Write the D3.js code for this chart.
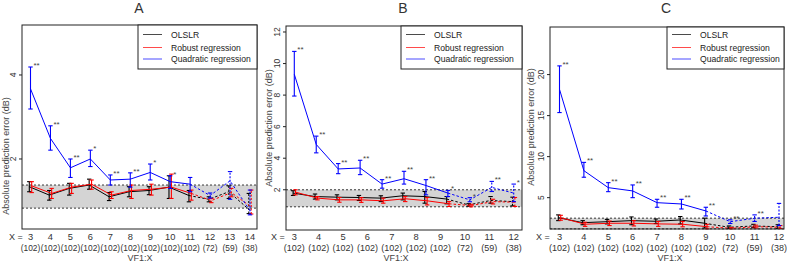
<!DOCTYPE html>
<html><head><meta charset="utf-8">
<script src="https://cdn.jsdelivr.net/npm/d3@7"></script>
<style>body{margin:0;background:#fff}svg{display:block;font-family:"Liberation Sans",Arial,sans-serif}</style>
</head><body>
<script>
// ---------- Panel A ----------
const xLabelsA = [3,4,5,6,7,8,9,10,11,12,13,14];
const nLabelsA = ["(102)","(102)","(102)","(102)","(102)","(102)","(102)","(102)","(102)","(72)","(59)","(38)"];
const quadA   = [3.67,2.49,1.79,2.00,1.50,1.52,1.68,1.46,1.40,1.13,1.48,0.77];
const quadLoA = [3.19,2.21,1.56,1.82,1.38,1.33,1.50,1.30,1.22,1.07,1.04,0.67];
const quadHiA = [4.19,2.79,2.00,2.21,1.62,1.67,1.88,1.60,1.56,1.19,1.70,1.26];
const olsA    = [1.34,1.14,1.30,1.38,1.10,1.22,1.25,1.33,1.13,1.04,1.22,0.80];
const olsLoA  = [1.22,1.02,1.14,1.28,1.01,1.10,1.15,1.06,0.98,0.98,1.06,0.70];
const olsHiA  = [1.46,1.25,1.42,1.52,1.20,1.34,1.34,1.60,1.25,1.10,1.36,1.18];
const robA    = [1.36,1.18,1.33,1.40,1.14,1.25,1.28,1.33,1.18,1.01,1.20,0.86];
const robLoA  = [1.20,1.06,1.18,1.28,1.06,1.06,1.14,1.06,1.02,0.96,1.10,0.69];
const robHiA  = [1.46,1.30,1.42,1.50,1.22,1.38,1.40,1.64,1.26,1.06,1.30,1.26];
const starsA  = ["**","**","**","*","**","**","*","*","","","",""];
const ticksA  = [2,4];
const bandA   = [0.83,1.38];

// ---------- Panel B ----------
const xLabelsB = [3,4,5,6,7,8,9,10,11,12];
const nLabelsB = ["(102)","(102)","(102)","(102)","(102)","(102)","(102)","(72)","(59)","(38)"];
const quadB   = [9.32,4.87,3.32,3.38,2.36,2.70,2.27,1.79,1.36,2.15,1.79];
const quadLoB = [7.94,4.34,3.02,2.96,2.10,2.36,1.68,1.57,1.24,1.89,1.25];
const quadHiB = [10.77,5.40,3.66,3.87,2.64,3.17,2.64,1.96,1.50,2.53,2.36];
const olsB    = [1.79,1.57,1.53,1.51,1.47,1.62,1.57,1.41,1.04,1.32,1.25];
const olsLoB  = [1.64,1.41,1.36,1.32,1.25,1.36,1.15,1.11,0.96,1.15,0.98];
const olsHiB  = [1.94,1.73,1.68,1.64,1.62,1.79,1.89,1.57,1.12,1.57,1.53];
const robB    = [1.85,1.47,1.36,1.36,1.30,1.43,1.30,1.11,1.00,1.25,1.21];
const robLoB  = [1.68,1.36,1.21,1.20,1.15,1.25,1.04,0.94,0.92,1.10,0.94];
const robHiB  = [2.00,1.57,1.51,1.50,1.47,1.57,1.51,1.25,1.08,1.40,1.51];
const starsB  = ["**","**","**","**","**","**","**","*","*","**","*"];
const ticksB  = [2,4,6,8,10,12];
const bandB   = [0.92,2.0];

// ---------- Panel C ----------
const xLabelsC = [3,4,5,6,7,8,9,10,11,12];
const nLabelsC = ["(102)","(102)","(102)","(102)","(102)","(102)","(102)","(72)","(59)","(38)"];
const quadC   = [18.2,8.29,6.22,5.82,4.39,4.23,3.38,2.07,2.49,2.61];
const quadLoC = [15.37,7.49,5.73,5.00,3.83,3.62,2.77,1.85,2.10,1.60];
const quadHiC = [21.06,9.30,6.83,6.55,4.80,4.80,3.83,2.30,2.90,4.30];
const olsC    = [2.56,1.95,2.07,2.20,2.12,2.28,1.88,1.39,1.55,1.46];
const olsLoC  = [2.20,1.70,1.80,1.70,1.85,1.80,1.30,1.25,1.35,1.25];
const olsHiC  = [2.90,2.20,2.35,2.65,2.40,2.70,2.50,1.55,1.75,1.70];
const robC    = [2.56,1.76,1.88,1.88,1.80,1.76,1.46,1.26,1.46,1.39];
const robLoC  = [2.25,1.50,1.60,1.55,1.50,1.45,1.20,1.20,1.30,1.25];
const robHiC  = [2.85,2.00,2.15,2.20,2.10,2.10,1.75,1.35,1.65,1.60];
const starsC  = ["**","**","**","**","**","**","**","**","**",""];
const ticksC  = [5,10,15,20];
const bandC   = [1.2,2.5];

const legendNames = ["OLSLR","Robust regression","Quadratic regression"];
const colors = {ols:"#000000", rob:"#ff0000", quad:"#0000ff"};

const panels = [
  {title:"A", left:22, right:257, top:25, bottom:229, ydom:[0.333,5.19], xr:[30.5,250],
   labels:xLabelsA, n:nLabelsA, quad:quadA, quadLo:quadLoA, quadHi:quadHiA, ols:olsA, olsLo:olsLoA, olsHi:olsHiA,
   rob:robA, robLo:robLoA, robHi:robHiA, stars:starsA, ticks:ticksA, band:bandA, dash:8,
   ylabY:156, ylabX:6, titleX:139, vfX:140, xeqX:16, legX:138, nfs:8.4},
  {title:"B", left:286, right:522, top:26, bottom:230, ydom:[-0.55,12.38], xr:[294.3,513.7],
   labels:xLabelsB, n:nLabelsB, quad:quadB, quadLo:quadLoB, quadHi:quadHiB, ols:olsB, olsLo:olsLoB, olsHi:olsHiB,
   rob:robB, robLo:robLoB, robHi:robHiB, stars:starsB, ticks:ticksB, band:bandB, dash:7,
   ylabY:128, ylabX:269, titleX:403, vfX:396, xeqX:278, legX:401, nfs:9},
  {title:"C", left:550, right:784, top:27, bottom:229, ydom:[1.18,25.8], xr:[559.5,779],
   labels:xLabelsC, n:nLabelsC, quad:quadC, quadLo:quadLoC, quadHi:quadHiC, ols:olsC, olsLo:olsLoC, olsHi:olsHiC,
   rob:robC, robLo:robLoC, robHi:robHiC, stars:starsC, ticks:ticksC, band:bandC, dash:6,
   ylabY:127, ylabX:531, titleX:666, vfX:670, xeqX:543, legX:667, nfs:9}
];

const svg = d3.select("body").append("svg").attr("width",787).attr("height",261);

panels.forEach(p => {
  const g = svg.append("g");
  const npts = p.quad.length;
  const x = d3.scaleLinear().domain([0, npts-1]).range(p.xr);
  const xl = d3.scaleLinear().domain([p.labels[0], p.labels[p.labels.length-1]]).range(p.xr);
  const y = d3.scaleLinear().domain(p.ydom).range([p.bottom, p.top]);

  // band
  g.append("rect").attr("x",p.left).attr("width",p.right-p.left)
    .attr("y",y(p.band[1])).attr("height",y(p.band[0])-y(p.band[1])).attr("fill","#d4d4d4");
  p.band.forEach(b => g.append("line").attr("x1",p.left).attr("x2",p.right).attr("y1",y(b)).attr("y2",y(b))
    .attr("stroke","#222").attr("stroke-width",0.9).attr("stroke-dasharray","2,2"));

  // series
  const series = [
    {k:"ols", v:p.ols, lo:p.olsLo, hi:p.olsHi, off:-1.2},
    {k:"rob", v:p.rob, lo:p.robLo, hi:p.robHi, off:1.2},
    {k:"quad", v:p.quad, lo:p.quadLo, hi:p.quadHi, off:0}
  ];
  series.forEach(s => {
    const pts = s.v.map((v,i)=>({i, v, lo:s.lo[i], hi:s.hi[i]}));
    const line = d3.line().x(d=>x(d.i)+s.off).y(d=>y(d.v));
    g.append("path").attr("d", line(pts.slice(0,p.dash+1))).attr("fill","none")
      .attr("stroke",colors[s.k]).attr("stroke-width",1);
    g.append("path").attr("d", line(pts.slice(p.dash))).attr("fill","none")
      .attr("stroke",colors[s.k]).attr("stroke-width",1).attr("stroke-dasharray","2.5,2");
    pts.forEach(d => {
      const cx = x(d.i)+s.off;
      const dash = d.i > p.dash ? "2,1.5" : null;
      const eb = g.append("g").attr("stroke",colors[s.k]).attr("stroke-width",1.1);
      eb.append("line").attr("x1",cx).attr("x2",cx).attr("y1",y(d.lo)).attr("y2",y(d.hi)).attr("stroke-dasharray",dash);
      eb.append("line").attr("x1",cx-2.2).attr("x2",cx+2.2).attr("y1",y(d.lo)).attr("y2",y(d.lo));
      eb.append("line").attr("x1",cx-2.2).attr("x2",cx+2.2).attr("y1",y(d.hi)).attr("y2",y(d.hi));
    });
  });

  // stars
  p.stars.forEach((st,i) => {
    if (!st) return;
    g.append("text").attr("x", x(i)+3).attr("y", y(p.quadHi[i])+1)
      .attr("font-size",8).attr("fill","#444").text(st);
  });

  // box
  g.append("rect").attr("x",p.left).attr("y",p.top).attr("width",p.right-p.left).attr("height",p.bottom-p.top)
    .attr("fill","none").attr("stroke","#222").attr("stroke-width",1);

  // y ticks
  p.ticks.forEach(t => {
    g.append("line").attr("x1",p.left-3).attr("x2",p.left).attr("y1",y(t)).attr("y2",y(t)).attr("stroke","#222");
    g.append("text").attr("transform",`translate(${p.left-6},${y(t)}) rotate(-90)`)
      .attr("text-anchor","middle").attr("font-size",8.5).attr("fill","#333").text(t);
  });
  g.append("text").attr("transform",`translate(${p.ylabX+3},${p.ylabY}) rotate(-90)`)
    .attr("text-anchor","middle").attr("font-size",9).attr("fill","#444").text("Absolute prediction error (dB)");

  // x labels
  g.append("text").attr("x",p.xeqX).attr("y",240).attr("text-anchor","middle").attr("font-size",9).attr("fill","#333").text("X =");
  p.labels.forEach((l,i) => {
    g.append("text").attr("x",xl(l)).attr("y",240).attr("text-anchor","middle").attr("font-size",9.3).attr("fill","#333").text(l);
    g.append("text").attr("x",xl(l)).attr("y",250.5).attr("text-anchor","middle").attr("font-size",p.nfs).attr("fill","#333").text(p.n[i]);
  });
  g.append("text").attr("x",p.vfX).attr("y",260.5).attr("text-anchor","middle").attr("font-size",9).attr("fill","#444").text("VF1:X");

  // title
  g.append("text").attr("x",p.titleX).attr("y",13).attr("text-anchor","middle").attr("font-size",14).attr("fill","#333").text(p.title);

  // legend
  const lg = g.append("g");
  lg.append("rect").attr("x",p.legX).attr("y",p.top).attr("width",p.right-p.legX).attr("height",69-p.top)
    .attr("fill","#fff").attr("stroke","#222").attr("stroke-width",1);
  const keys = ["ols","rob","quad"];
  const rowY = [34.5,47.5,59];
  legendNames.forEach((nm,i) => {
    lg.append("line").attr("x1",p.legX+5).attr("x2",p.legX+24).attr("y1",rowY[i]).attr("y2",rowY[i])
      .attr("stroke",colors[keys[i]]).attr("stroke-width",1).attr("opacity",0.7);
    lg.append("text").attr("x",p.legX+33).attr("y",rowY[i]+3.2).attr("font-size",8.6).attr("fill","#222").text(nm);
  });
});
</script>
</body></html>
